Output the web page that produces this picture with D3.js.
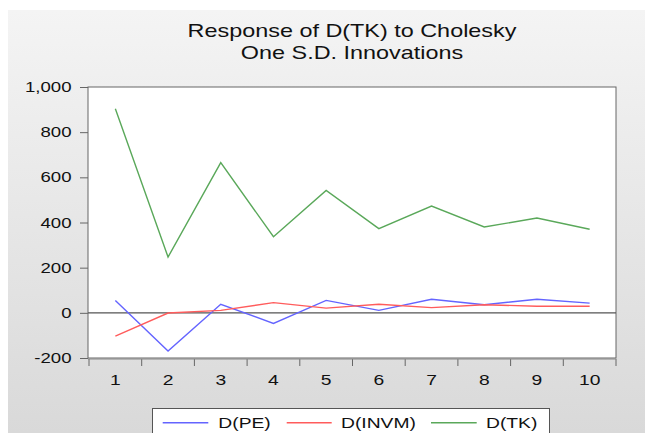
<!DOCTYPE html>
<html>
<head>
<meta charset="utf-8">
<script src="https://cdn.jsdelivr.net/npm/d3@7"></script>
<style>
  html, body { margin: 0; padding: 0; background: #ffffff; }
  svg { display: block; }
  text { font-family: "Liberation Sans", Arial, sans-serif; fill: #111; }
</style>
</head>
<body>
<svg id="chart" width="645" height="433"></svg>
<script>
// ---- data ----
const periods = [1, 2, 3, 4, 5, 6, 7, 8, 9, 10];
const dPE   = [55, -169, 38, -47, 55, 11, 60, 36, 60, 43];
const dINVM = [-103, -1, 11, 45, 21, 38, 23, 36, 29, 29];
const dTK   = [904, 247, 665, 337, 542, 373, 473, 380, 420, 370];
const yTicks = [-200, 0, 200, 400, 600, 800, 1000];
const seriesNames = ["D(PE)", "D(INVM)", "D(TK)"];
const titleLines = ["Response of D(TK) to Cholesky", "One S.D. Innovations"];

const colors = ["#6464ff", "#ff5c5c", "#5aa85a"];
const series = [dPE, dINVM, dTK];
const SX = 1.33; // horizontal stretch of text as in the reference

const svg = d3.select("#chart");

// background panel with gradient
const defs = svg.append("defs");
const grad = defs.append("linearGradient").attr("id", "bg")
  .attr("x1", 0).attr("y1", 0).attr("x2", 0).attr("y2", 1);
grad.append("stop").attr("offset", "0%").attr("stop-color", "#f4f4f4");
grad.append("stop").attr("offset", "100%").attr("stop-color", "#d9d9d9");
svg.append("rect").attr("x", 8).attr("y", 10).attr("width", 637).attr("height", 423)
  .attr("fill", "url(#bg)");

const L = 88, R = 616, T = 87, B = 358;

const x = d3.scaleBand().domain(periods).range([L + 1, R]).paddingInner(0).paddingOuter(0);
const y = d3.scaleLinear().domain([-200, 1000]).range([B, T]);

// plot area
svg.append("rect").attr("x", L).attr("y", T).attr("width", R - L).attr("height", B - T)
  .attr("fill", "#ffffff").attr("stroke", "#666").attr("stroke-width", 1);

function sText(g, str, px, py, anchor, size) {
  g.append("g").attr("transform", `translate(${px},${py}) scale(${SX},1)`)
    .append("text").attr("text-anchor", anchor).style("font-size", size + "px").text(str);
}

// y axis
const yAxis = d3.axisLeft(y).tickValues(yTicks).tickSize(8).tickFormat("");
const gy = svg.append("g").attr("transform", `translate(${L},0)`).call(yAxis);
gy.select(".domain").remove();
gy.selectAll(".tick line").attr("stroke", "#666");
const fmt = d3.format(",");
yTicks.forEach(v => sText(svg, fmt(v).replace("\u2212", "-"), 71.5, y(v) + 5, "end", 14));

// x axis ticks at band boundaries
const bounds = periods.map(p => x(p)).concat([x(periods[periods.length - 1]) + x.bandwidth()]);
svg.append("g").selectAll("line").data(bounds).join("line")
  .attr("x1", d => d).attr("x2", d => d).attr("y1", B + 1).attr("y2", B + 8)
  .attr("stroke", "#666");
svg.append("line").attr("x1", L).attr("x2", R).attr("y1", B + 1).attr("y2", B + 1).attr("stroke", "#888");
periods.forEach(p => sText(svg, String(p), x(p) + x.bandwidth() / 2, 384.5, "middle", 14.5));

// zero line
svg.append("line").attr("x1", L).attr("x2", R).attr("y1", y(0)).attr("y2", y(0))
  .attr("stroke", "#555").attr("stroke-width", 1.2);

// series lines
const line = d3.line().x((d, i) => x(periods[i]) + x.bandwidth() / 2).y(d => y(d));
series.forEach((s, i) => {
  svg.append("path").datum(s).attr("d", line).attr("fill", "none")
    .attr("stroke", colors[i]).attr("stroke-width", 1.4);
});

// title
sText(svg, titleLines[0], 352, 36.7, "middle", 17.6);
sText(svg, titleLines[1], 352, 59.3, "middle", 17.6);

// legend
svg.append("rect").attr("x", 152.5).attr("y", 408.5).attr("width", 397).attr("height", 40)
  .attr("fill", "#ffffff").attr("stroke", "#555");
const legX = [[162.7, 208.3, 218.3], [286.7, 331.7, 341], [431, 476.7, 486]];
seriesNames.forEach((n, i) => {
  svg.append("line").attr("x1", legX[i][0]).attr("x2", legX[i][1])
    .attr("y1", 422.7).attr("y2", 422.7).attr("stroke", colors[i]).attr("stroke-width", 1.4);
  sText(svg, n, legX[i][2], 428, "start", 14.5);
});
</script>
</body>
</html>
